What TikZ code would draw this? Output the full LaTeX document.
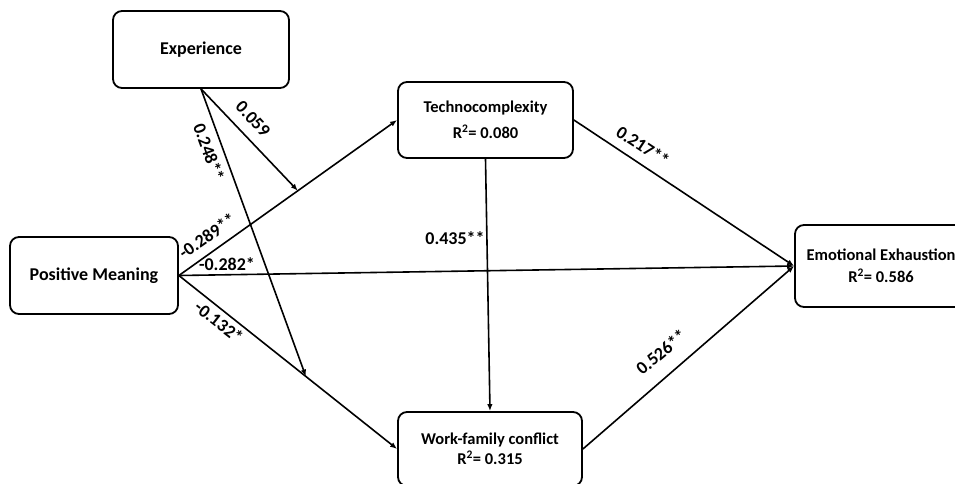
\documentclass[tikz,border=0pt]{standalone}
\usepackage{fontspec}
\setmainfont{Carlito}
\usetikzlibrary{arrows.meta,calc}
\begin{document}
\begin{tikzpicture}[x=1pt,y=-1pt,
  box/.style={draw, line width=1.8pt, rounded corners=9pt, inner sep=0pt, align=center},
  lbl/.style={font=\fontsize{18}{20}\selectfont\bfseries, inner sep=0pt},
  arr/.style={line width=1.6pt, -{Latex[length=7pt,width=5.5pt]}},
  txt/.style={font=\fontsize{16.5}{19.8}\selectfont\bfseries}
]
\useasboundingbox (0,0) rectangle (955,483);
\clip (0,0) rectangle (955,483);
% boxes
\node[box, minimum width=176pt, minimum height=77pt, font=\fontsize{18}{20}\selectfont\bfseries] (exp) at (201,49.5) {Experience};
\node[box, minimum width=168pt, minimum height=77pt, font=\fontsize{18}{20}\selectfont\bfseries] (pm) at (94,275.5) {Positive Meaning};
\node[box, minimum width=175pt, minimum height=76pt, txt] (tc) at (485.5,120) {Technocomplexity\\[6pt]R\textsuperscript{2}= 0.080};
\node[box, minimum width=184pt, minimum height=74pt, txt] (wfc) at (490,449) {Work-family conflict\\R\textsuperscript{2}= 0.315};
\node[box, minimum width=172pt, minimum height=82pt, txt] (ee) at (881,266) {Emotional Exhaustion\\[2pt]R\textsuperscript{2}= 0.586};
% points on paths
\coordinate (m1) at ($(pm.east)!0.545!(tc.west)$);
\coordinate (m2) at ($(pm.east)!0.582!(wfc.west)$);
% connectors
\draw[arr] (pm.east) -- (tc.west);
\draw[arr] (pm.east) -- (wfc.west);
\draw[arr] (pm.east) -- (ee.west);
\draw[arr] (exp.south) -- (m1);
\draw[arr] (exp.south) -- (m2);
\draw[arr] (tc.south) -- (wfc.north);
\draw[arr] (tc.east) -- (ee.west);
\draw[arr] (wfc.east) -- (ee.west);
% labels
\node[lbl, rotate=-46.7] (l1) at (253,119) {0.059};
\node[lbl, rotate=-70] (l2) at (209,152) {0.248**};
\node[lbl, rotate=35] (l3) at (207,236) {-0.289**};
\node[lbl] (l4) at (227,264) {-0.282*};
\node[lbl, rotate=-38] (l5) at (219,322) {-0.132*};
\node[lbl] (l6) at (455,238) {0.435**};
\node[lbl, rotate=-33.4] (l7) at (643,146) {0.217**};
\node[lbl, rotate=40] (l8) at (661,352) {0.526**};
\end{tikzpicture}
\end{document}
